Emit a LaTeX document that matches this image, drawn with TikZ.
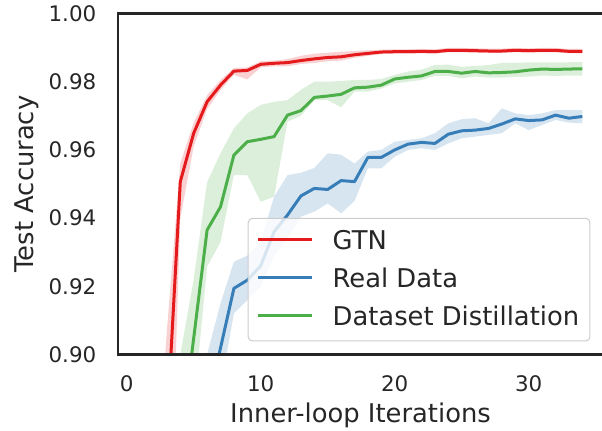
\documentclass[tikz,border=0pt]{standalone}
\usepackage{fontspec}
\setmainfont{DejaVu Sans}
\definecolor{gtnred}{HTML}{E41A1C}
\definecolor{realblue}{HTML}{377EB8}
\definecolor{distgreen}{HTML}{4DAF4A}
\definecolor{axisgray}{HTML}{262626}
\tikzset{
    curve/.style={line width=1.5pt, line join=round},
    band/.style={fill opacity=0.2},
    ticklabel/.style={inner sep=0pt, text=axisgray, font=\fontsize{10.7}{12}\selectfont},
    axislabel/.style={inner sep=0pt, text=axisgray, font=\fontsize{12.9}{15}\selectfont},
}
\begin{document}
\begin{tikzpicture}[x=6.7pt,y=17.05pt]
    \useasboundingbox (-9.455,-2.243) rectangle (35.47,10.396);
    \begin{scope}
        \clip (-0.65,0) rectangle (35.65,10);
        % spread of each run
        \fill[gtnred,band] plot coordinates {(2,-5) (3,0.7) (4,5.6) (5,6.8) (6,7.6) (7,8.05) (8,8.4) (9,8.42) (10,8.6) (11,8.62) (12,8.66) (13,8.76) (14,8.82) (15,8.85) (16,8.88) (17,8.9) (18,8.92) (19,8.94) (20,8.95) (21,8.95) (22,8.96) (23,8.95) (24,8.99) (25,8.99) (26,8.98) (27,8.97) (28,8.97) (29,8.99) (30,8.98) (31,8.99) (32,8.99) (33,8.96) (34,8.96)}
            -- plot coordinates {(34,8.83) (33,8.83) (32,8.86) (31,8.86) (30,8.85) (29,8.86) (28,8.84) (27,8.84) (26,8.85) (25,8.86) (24,8.86) (23,8.82) (22,8.83) (21,8.82) (20,8.82) (19,8.81) (18,8.76) (17,8.70) (16,8.62) (15,8.60) (14,8.55) (13,8.52) (12,8.45) (11,8.45) (10,8.42) (9,8.07) (8,8.2) (7,7.75) (6,7.2) (5,6.1) (4,4.0) (3,-8) (2,-9)} -- cycle;
        \fill[distgreen,band] plot coordinates {(4,0) (5,2.2) (6,5.05) (7,5.9) (8,6.63) (9,7.07) (10,7.32) (11,7.41) (12,7.46) (13,7.76) (14,8.0) (15,8.0) (16,8.02) (17,8.05) (18,8.05) (19,8.08) (20,8.2) (21,8.3) (22,8.35) (23,8.49) (24,8.5) (25,8.44) (26,8.46) (27,8.49) (28,8.55) (29,8.55) (30,8.57) (31,8.57) (32,8.57) (33,8.57) (34,8.58)}
            -- plot coordinates {(34,8.18) (33,8.18) (32,8.17) (31,8.18) (30,8.15) (29,8.14) (28,8.12) (27,8.12) (26,8.15) (25,8.10) (24,8.17) (23,8.17) (22,8.05) (21,8.0) (20,7.95) (19,7.80) (18,7.71) (17,7.71) (16,7.25) (15,7.46) (14,7.46) (13,7.0) (12,6.83) (11,4.63) (10,4.48) (9,5.26) (8,5.26) (7,3.3) (6,2.57) (5,-1.5) (4,-4)} -- cycle;
        \fill[realblue,band] plot coordinates {(5,-2) (6,0) (7,1.5) (8,2.72) (9,2.9) (10,3.3) (11,4.63) (12,5.26) (13,5.33) (14,5.47) (15,5.9) (16,5.86) (17,5.6) (18,5.95) (19,6.0) (20,6.24) (21,6.29) (22,6.34) (23,6.49) (24,6.78) (25,6.90) (26,6.93) (27,6.78) (28,7.22) (29,7.07) (30,7.02) (31,7.07) (32,7.17) (33,7.17) (34,7.17)}
            -- plot coordinates {(34,6.78) (33,6.80) (32,6.88) (31,6.73) (30,6.58) (29,6.78) (28,6.49) (27,6.44) (26,6.39) (25,6.34) (24,6.19) (23,6.0) (22,6.05) (21,6.0) (20,5.80) (19,5.46) (18,5.46) (17,4.5) (16,4.14) (15,4.43) (14,4.19) (13,4.04) (12,3.4) (11,2.9) (10,2.0) (9,1.6) (8,1.2) (7,-1) (6,-3) (5,-5)} -- cycle;
        % mean curves
        \draw[curve,gtnred] plot coordinates {(2,-5) (3,-2.17) (4,5.07) (5,6.49) (6,7.41) (7,7.90) (8,8.31) (9,8.33) (10,8.51) (11,8.54) (12,8.56) (13,8.62) (14,8.67) (15,8.71) (16,8.73) (17,8.79) (18,8.83) (19,8.87) (20,8.88) (21,8.88) (22,8.89) (23,8.88) (24,8.92) (25,8.92) (26,8.91) (27,8.90) (28,8.90) (29,8.92) (30,8.91) (31,8.92) (32,8.92) (33,8.89) (34,8.89)};
        \draw[curve,realblue] plot coordinates {(5,-4) (6,-1.5) (7,0.19) (8,1.94) (9,2.18) (10,2.60) (11,3.60) (12,4.09) (13,4.65) (14,4.87) (15,4.84) (16,5.10) (17,5.07) (18,5.78) (19,5.78) (20,6.00) (21,6.17) (22,6.22) (23,6.19) (24,6.46) (25,6.56) (26,6.58) (27,6.63) (28,6.76) (29,6.91) (30,6.86) (31,6.88) (32,7.02) (33,6.93) (34,6.98)};
        \draw[curve,distgreen] plot coordinates {(4,-2.7) (5,0.48) (6,3.65) (7,4.33) (8,5.85) (9,6.24) (10,6.31) (11,6.39) (12,7.02) (13,7.15) (14,7.54) (15,7.58) (16,7.63) (17,7.82) (18,7.84) (19,7.90) (20,8.08) (21,8.13) (22,8.17) (23,8.30) (24,8.30) (25,8.25) (26,8.30) (27,8.26) (28,8.27) (29,8.29) (30,8.34) (31,8.37) (32,8.36) (33,8.37) (34,8.38)};
    \end{scope}
    % legend
    \draw[line width=0.5pt, draw=black!20, fill=white, fill opacity=0.8, rounded corners=2pt] (9.07,0.40) rectangle (34.57,3.99);
    \foreach \name/\col/\ly/\txt in {gtn/gtnred/3.36/GTN, real/realblue/2.25/Real Data, dist/distgreen/1.14/Dataset Distillation} {
        \coordinate (\name-a) at (9.82,\ly);
        \coordinate (\name-b) at (13.81,\ly);
        \draw[curve,\col] (\name-a) -- (\name-b);
        \node[axislabel, anchor=west] (\name-txt) at (15.34,\ly) {\txt};
    }
    % axes
    \draw[line width=1.3pt, axisgray] (-0.65,0) rectangle (35.65,10);
    \foreach \v/\t in {0/0.90, 2/0.92, 4/0.94, 6/0.96, 8/0.98, 10/1.00} {
        \node[ticklabel, anchor=east] (ytick\v) at (-2.24,\v) {\t};
    }
    \foreach \x in {0, 10, 20, 30} {
        \node[ticklabel] (xtick\x) at (\x,-0.865) {\x};
    }
    \node[axislabel, rotate=90] (ylabel) at (-7.475,5.0) {Test Accuracy};
    \node[axislabel] (xlabel) at (17.45,-1.79) {Inner-loop Iterations};
\end{tikzpicture}
\end{document}
